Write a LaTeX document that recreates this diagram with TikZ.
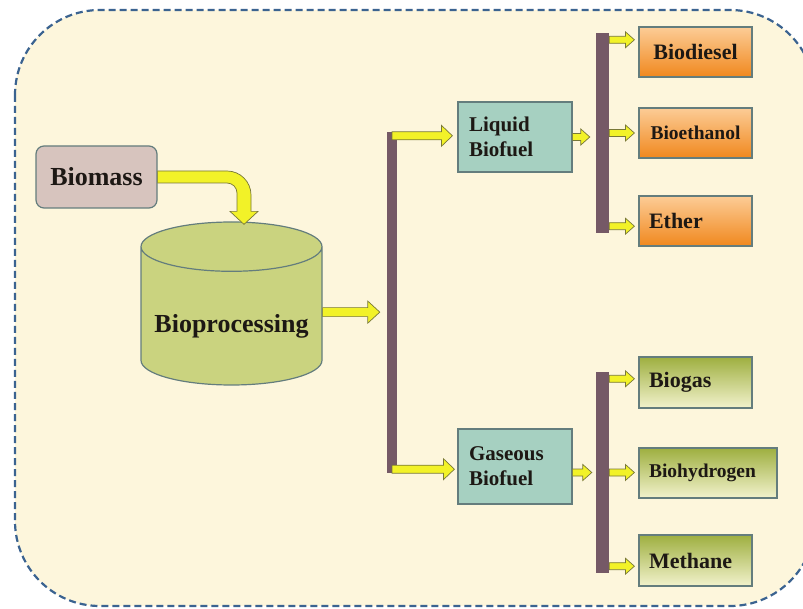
\documentclass[tikz,border=0pt]{standalone}
\usepackage{fontspec}
\setmainfont{Liberation Serif}
\usetikzlibrary{positioning,shapes.geometric,calc}
\definecolor{colorpage}     {RGB}{253,246,220}
\definecolor{colorframe}    {RGB}{59 ,99 ,144}
\definecolor{colorbiomass}  {RGB}{215,196,190}
\definecolor{colorprocess}  {RGB}{202,211,127}
\definecolor{colorfuel}     {RGB}{166,208,193}
\definecolor{colorrail}     {RGB}{117,89 ,102}
\definecolor{colorarrow}    {RGB}{242,242,40 }
\definecolor{colorarrowline}{RGB}{120,120,55 }
\definecolor{colorborder}   {RGB}{100,125,125}
\definecolor{colororangetop}{RGB}{252,204,150}
\definecolor{colororangebot}{RGB}{240,136,30 }
\definecolor{colorgreentop} {RGB}{158,175,64 }
\definecolor{colorgreenbot} {RGB}{242,242,204}
\definecolor{colortext}     {RGB}{29 ,24 ,20 }

\begin{document}
\begin{tikzpicture}[
    x=1pt, y=-1pt,
    base/.style={text=colortext,font={\bfseries\fontsize{22}{24}\selectfont},inner sep=0pt,draw=colorborder,line width=1.2pt},
    fuel/.style={base,fill=colorfuel,align=left,text width=92pt,minimum width=114pt,font={\bfseries\fontsize{21}{25}\selectfont}},
    product/.style={base,minimum width=113pt,minimum height=50pt,text width=93pt,align=left},
    liquidprod/.style={product,top color=colororangetop,bottom color=colororangebot},
    gasprod/.style={product,top color=colorgreentop,bottom color=colorgreenbot},
    rail/.style={fill=colorrail,inner sep=0pt,minimum width=#1},
    fat/.style n args={3}{draw=colorarrowline,fill=colorarrow,line width=0.7pt,
        to path={let \p1=(\tikztostart), \p2=(\tikztotarget) in
            (\x1,\y1+#1) -- (\x2-#3,\y1+#1) -- (\x2-#3,\y1+#2) -- (\x2,\y1)
            -- (\x2-#3,\y1-#2) -- (\x2-#3,\y1-#1) -- (\x1,\y1-#1) -- cycle}},
]

    \useasboundingbox (0,0) rectangle (803,609);
    \clip (0,0) rectangle (803,609);

    % Frame
    \draw[colorframe,fill=colorpage,line width=2.2pt,dash pattern=on 7pt off 4pt,rounded corners=85pt]
        (15,10) rectangle (815,606);

    % Nodes
    \node[base,fill=colorbiomass,rounded corners=8pt,minimum width=121pt,minimum height=62pt,
          font={\bfseries\fontsize{26}{28}\selectfont}] (biomass) at (96.5,177) {Biomass};
    \node[base,cylinder,shape border rotate=90,aspect=0.32,fill=colorprocess,
          minimum width=181pt,minimum height=163pt,anchor=shape center,
          text height=32pt,text depth=0pt,
          font={\bfseries\fontsize{26}{28}\selectfont}] (proc) at (231.5,303.5) {Bioprocessing};

    \node[rail=10pt,minimum height=341pt] (rail1) at (392,302.5) {};
    \node[fuel,minimum height=70pt] (liquid) at (515,137)   {Liquid\\Biofuel};
    \node[fuel,minimum height=75pt] (gas)    at (515,466.5) {Gaseous\\Biofuel};

    \node[rail=13pt,minimum height=200pt] (rail2) at (602.5,133)   {};
    \node[rail=13pt,minimum height=201pt] (rail3) at (602.5,472.5) {};

    \node[liquidprod,align=center] (biodiesel)  at (695.5,52)  {Biodiesel};
    \node[liquidprod,align=center,font={\bfseries\fontsize{19.5}{22}\selectfont}] (bioethanol) at (695.5,133) {Bioethanol};
    \node[liquidprod] (ether)      at (695.5,221) {Ether};

    \node[gasprod,minimum height=51pt] (biogas) at (695.5,382.5) {Biogas};
    \node[gasprod,minimum width=138pt,text width=118pt,
          font={\bfseries\fontsize{19.5}{22}\selectfont}] (biohydrogen) at (708,473) {Biohydrogen};
    \node[gasprod,minimum height=51pt] (methane) at (695.5,560.5) {Methane};

    % Arrows
    \draw[draw=colorarrowline,fill=colorarrow,line width=0.7pt]
        let \p1=(biomass.east), \p2=([xshift=12.5pt,yshift=-3pt]proc.north) in
        (\x1,\y1+6pt) [rounded corners=24pt] -- (\x2+7pt,\y1+6pt) [sharp corners]
        -- (\x2+7pt,\y2+13pt) -- (\x2+14pt,\y2+13pt) -- (\x2,\y2) -- (\x2-14pt,\y2+13pt)
        -- (\x2-7pt,\y2+13pt) [rounded corners=10pt] -- (\x2-7pt,\y1-6pt) [sharp corners]
        -- (\x1,\y1-6pt) -- cycle;

    \draw[fat={4.5pt}{11pt}{12pt}] ([yshift=4pt]proc.east) to ([xshift=-7pt]rail1.west);
    \draw[fat={4pt}{10.5pt}{11pt}] ([yshift=-4pt]rail1.north) to ([xshift=-5pt]liquid.west);
    \draw[fat={4pt}{10.5pt}{11pt}] ([yshift=4pt]rail1.south)  to ([xshift=-3pt]gas.west);

    \draw[fat={3.5pt}{8pt}{9pt}] (liquid.east) to ([xshift=-6pt]rail2.west);
    \draw[fat={3.5pt}{8pt}{9pt}] ([yshift=-7pt]rail2.north east) to ([xshift=-4pt]biodiesel.west);
    \draw[fat={3.5pt}{8pt}{9pt}] (rail2.east) to ([xshift=-4pt]bioethanol.west);
    \draw[fat={3.5pt}{8pt}{9pt}] ([yshift=7pt]rail2.south east) to ([xshift=-4pt]ether.west);

    \draw[fat={3.5pt}{8pt}{9pt}] ([yshift=-6pt]gas.east) to ([xshift=-4pt]rail3.west);
    \draw[fat={3.5pt}{8pt}{9pt}] ([yshift=-7pt]rail3.north east) to ([xshift=-4pt]biogas.west);
    \draw[fat={3.5pt}{8pt}{9pt}] (rail3.east) to ([xshift=-4pt]biohydrogen.west);
    \draw[fat={3.5pt}{8pt}{9pt}] ([yshift=7pt]rail3.south east) to ([xshift=-4pt]methane.west);

\end{tikzpicture}
\end{document}
